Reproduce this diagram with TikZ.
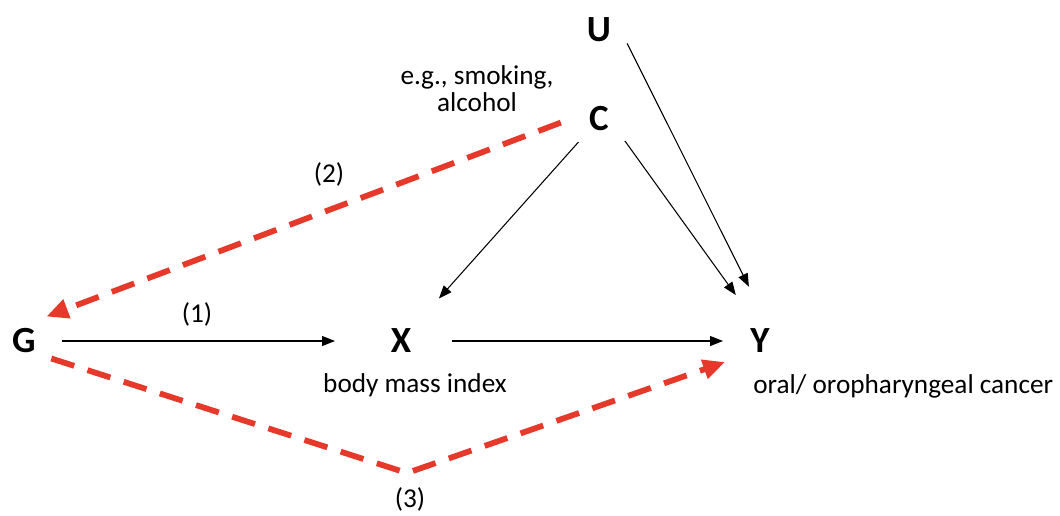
\documentclass[tikz,border=0pt]{standalone}
\usepackage{fontspec}
\setmainfont{Carlito}
\usetikzlibrary{arrows.meta, positioning}
\definecolor{pathred}{RGB}{229,57,43}
\tikzset{
  var/.style={font=\fontsize{21}{21}\selectfont\bfseries, inner sep=0pt},
  note/.style={font=\fontsize{15.5}{15.5}\selectfont, inner sep=0pt, align=center},
  effect/.style={-{Triangle[length=0.26cm, width=0.2cm]}, line width=0.6pt},
  ivpath/.style={-{Triangle[length=0.44cm, width=0.38cm]}, pathred,
                 line width=3.3pt, dash pattern=on 0.48cm off 0.28cm},
}
\begin{document}
\begin{tikzpicture}[x=0.02cm, y=-0.02cm]
\useasboundingbox (0,0) rectangle (1060,515);
\node[var] (G) at (24,341) {G};
\node[var] (X) at (401,341) {X};
\node[var] (Y) at (760,341) {Y};
\node[var] (C) at (599,119) {C};
\node[var] (U) at (599,30) {U};
\coordinate (dip) at (407,473);

\node[note, anchor=base] (bmi) at (415,392) {body mass index};
\node[note, anchor=base west] (cancer) at (753,393) {oral/ oropharyngeal cancer};
\node[note] (conf) at (477,89) {e.g., smoking,\\alcohol};

\node[note] (p1) at (197,314) {(1)};
\node[note] (p2) at (329,174) {(2)};
\node[note] (p3) at (410,499) {(3)};

\draw[effect, shorten <=0.76cm, shorten >=1.32cm] (G.center) -- (X.center);
\draw[effect, shorten <=1.02cm, shorten >=0.74cm] (X.center) -- (Y.center);
\draw[effect, shorten <=0.62cm, shorten >=1.14cm] (C.center) -- (X.center);
\draw[effect, shorten <=0.54cm, shorten >=0.83cm] (C.east) -- (Y.north);
\draw[effect, shorten <=0.3cm, shorten >=0.94cm] ([xshift=0.18cm]U.east) -- (Y.north east);

\draw[ivpath, shorten <=0.6cm, shorten >=0.22cm] ([yshift=0.14cm]C.west) -- ([yshift=0.16cm]G.north east);
\draw[ivpath, shorten <=0.32cm, shorten >=0.53cm] (G.south east) -- (dip) -- (Y.south west);
\end{tikzpicture}
\end{document}
